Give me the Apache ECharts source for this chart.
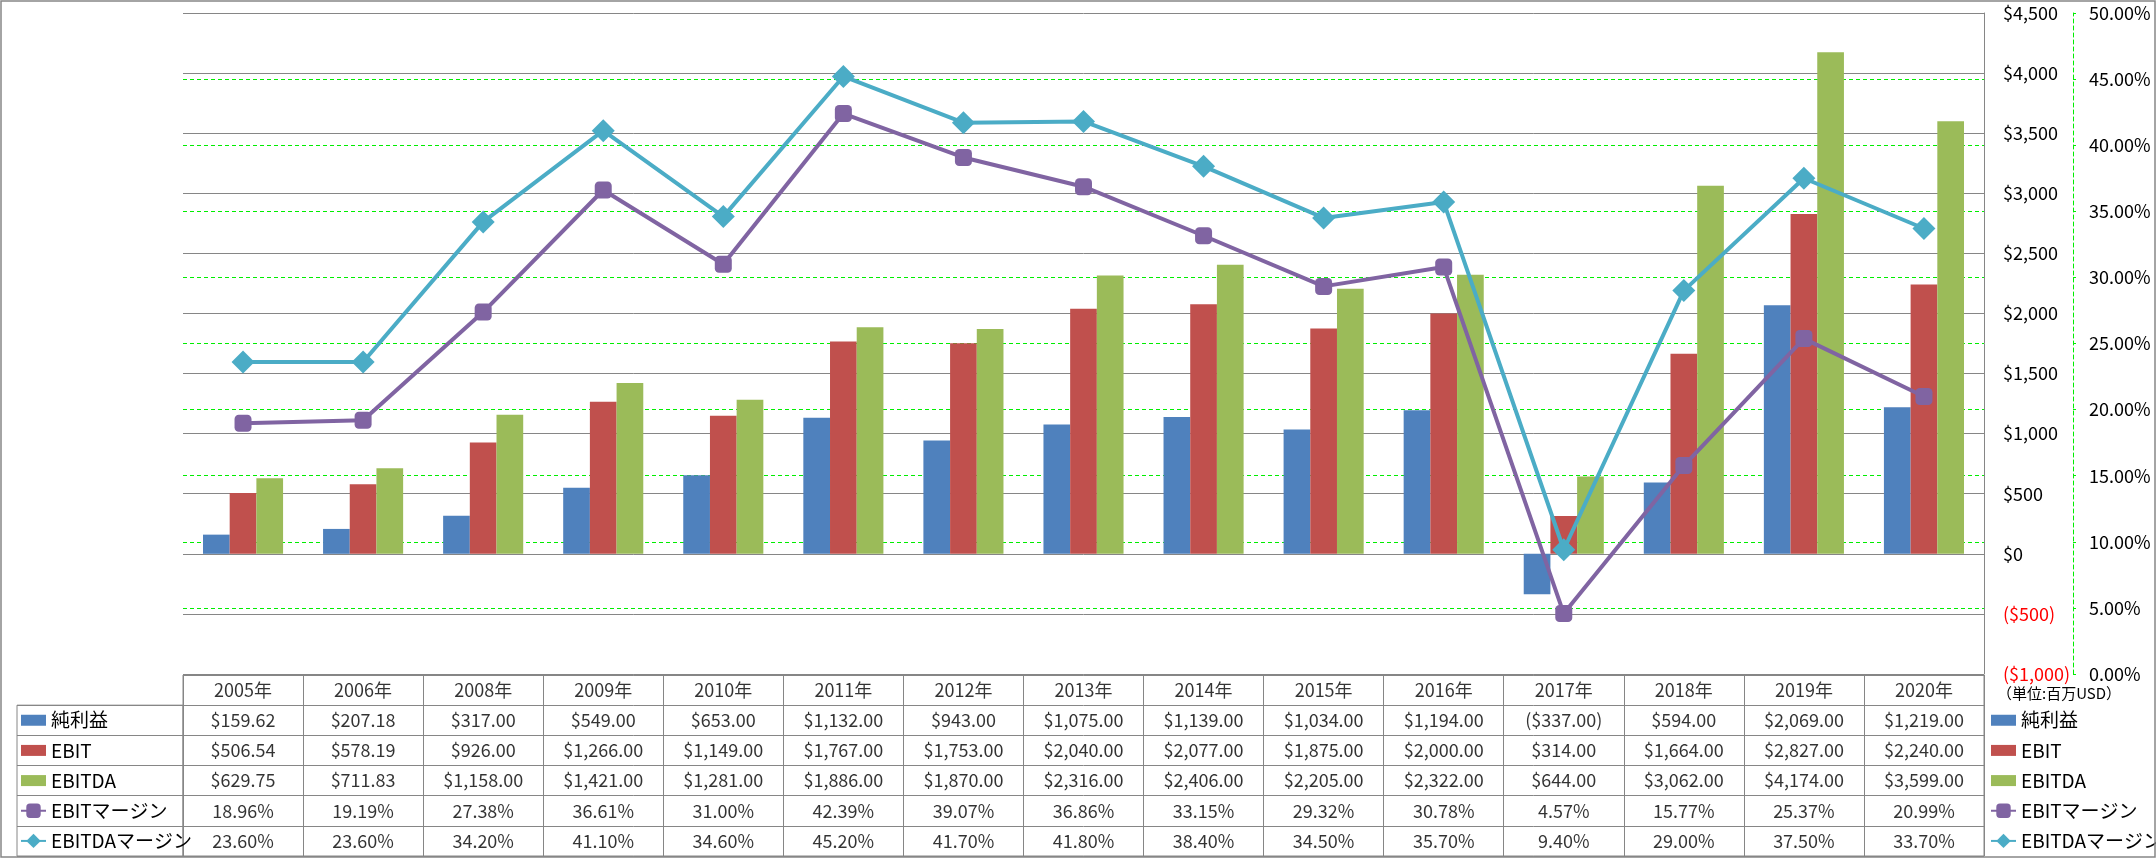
<!DOCTYPE html>
<html><head><meta charset="utf-8">
<script src="https://cdn.jsdelivr.net/npm/echarts@6/dist/echarts.min.js"></script>
<style>html,body{margin:0;padding:0;background:#fff}#c{width:2156px;height:858px}</style>
</head><body><div id="c"></div>
<script>
// ---- data ----
const categories = ['2005年','2006年','2008年','2009年','2010年','2011年','2012年','2013年','2014年','2015年','2016年','2017年','2018年','2019年','2020年'];
const netIncome = [159.62, 207.18, 317.00, 549.00, 653.00, 1132.00, 943.00, 1075.00, 1139.00, 1034.00, 1194.00, -337.00, 594.00, 2069.00, 1219.00];
const ebit = [506.54, 578.19, 926.00, 1266.00, 1149.00, 1767.00, 1753.00, 2040.00, 2077.00, 1875.00, 2000.00, 314.00, 1664.00, 2827.00, 2240.00];
const ebitda = [629.75, 711.83, 1158.00, 1421.00, 1281.00, 1886.00, 1870.00, 2316.00, 2406.00, 2205.00, 2322.00, 644.00, 3062.00, 4174.00, 3599.00];
const ebitMargin = [18.96, 19.19, 27.38, 36.61, 31.00, 42.39, 39.07, 36.86, 33.15, 29.32, 30.78, 4.57, 15.77, 25.37, 20.99];
const ebitdaMargin = [23.60, 23.60, 34.20, 41.10, 34.60, 45.20, 41.70, 41.80, 38.40, 34.50, 35.70, 9.40, 29.00, 37.50, 33.70];
const seriesNames = ['純利益', 'EBIT', 'EBITDA', 'EBITマージン', 'EBITDAマージン'];
const usdAxis = {min: -1000, max: 4500, interval: 500};
const pctAxis = {min: 0, max: 50, interval: 5};
const unitNote = '（単位:百万USD）';

// ---- formatting ----
function usd(v, dec) {
  const s = '$' + Math.abs(v).toLocaleString('en-US', {minimumFractionDigits: dec, maximumFractionDigits: dec});
  return v < 0 ? '(' + s + ')' : s;
}
function pct(v) { return v.toFixed(2) + '%'; }

// ---- layout ----
const FONT = '"Noto Sans CJK JP", "Noto Sans", sans-serif';
const plotL = 183, plotR = 2156 - 1984, plotT = 13, plotB = 858 - 674;
const tblT = 675, tblH = 181, rowH = tblH / 6;
const GRAY = '#868686', GREEN = '#00EE00';

// table cells
const rows = [netIncome.map(v => usd(v, 2)), ebit.map(v => usd(v, 2)), ebitda.map(v => usd(v, 2)),
              ebitMargin.map(pct), ebitdaMargin.map(pct)];
const cellData = [];
categories.forEach((c, i) => cellData.push([i, 0, c]));
rows.forEach((r, ri) => r.forEach((t, i) => cellData.push([i, ri + 1, t])));

const barIcon = 'path://M0,0H25V11H0Z';
const legendData = seriesNames.map((n, i) => i < 3 ? {name: n, icon: barIcon} : {name: n});
function makeLegend(left) {
  return {
    data: legendData, orient: 'vertical', left: left, top: tblT + rowH, padding: 0,
    itemWidth: 25, itemHeight: 18, itemGap: 0, selectedMode: false,
    textStyle: {fontFamily: FONT, fontSize: 19, color: '#000', lineHeight: rowH}
  };
}

const chart = echarts.init(document.getElementById('c'), null, {renderer: 'canvas'});
chart.setOption({
  animation: false,
  backgroundColor: '#fff',
  textStyle: {fontFamily: FONT},
  title: {text: unitNote, left: 1997, top: 686, padding: 0,
          textStyle: {fontFamily: FONT, fontSize: 15, fontWeight: 'normal', color: '#000'}},
  legend: [makeLegend(20), makeLegend(1990)],
  graphic: [{type: 'rect', silent: true, z: 100,
             shape: {x: 1, y: 1, width: 2154, height: 856},
             style: {fill: 'none', stroke: GRAY, lineWidth: 1.5}}],
  grid: [
    {left: plotL, right: plotR, top: plotT, bottom: plotB, show: false},
    {left: plotL, right: plotR, top: tblT, height: tblH, show: true, borderColor: GRAY, borderWidth: 1},
    {left: 17, width: plotL - 17, top: tblT + rowH, height: rowH * 5, show: true, borderColor: GRAY, borderWidth: 1}
  ],
  xAxis: [
    {type: 'category', gridIndex: 0, data: categories, axisLine: {show: false}, axisTick: {show: false}, axisLabel: {show: false}},
    {type: 'category', gridIndex: 1, data: categories, axisLine: {show: false}, axisTick: {show: false}, axisLabel: {show: false},
     splitLine: {show: true, lineStyle: {color: GRAY, width: 1}}},
    {type: 'value', gridIndex: 2, min: 0, max: 1, show: false}
  ],
  yAxis: [
    {type: 'value', gridIndex: 0, position: 'right', min: usdAxis.min, max: usdAxis.max, interval: usdAxis.interval,
     axisLine: {show: true, lineStyle: {color: GRAY, width: 1}}, axisTick: {show: false},
     axisLabel: {margin: 19, fontSize: 18, fontFamily: FONT, formatter: v => usd(v, 0),
                 color: v => (v < 0 ? '#FF0000' : '#000')},
     splitLine: {show: true, lineStyle: {color: GRAY, width: 1}}},
    {type: 'value', gridIndex: 0, position: 'right', offset: 89, min: pctAxis.min, max: pctAxis.max, interval: pctAxis.interval,
     axisLine: {show: true, lineStyle: {color: GREEN, width: 1, type: [4, 3]}},
     axisTick: {show: true, length: 3, lineStyle: {color: GREEN}},
     axisLabel: {margin: 16, fontSize: 18, fontFamily: FONT, color: '#000', formatter: v => v.toFixed(2) + '%'},
     splitLine: {show: true, showMinLine: false, showMaxLine: false, lineStyle: {color: GREEN, width: 1, type: [4, 3]}}},
    {type: 'category', gridIndex: 1, inverse: true, data: ['h', 'r1', 'r2', 'r3', 'r4', 'r5'],
     axisLine: {show: false}, axisTick: {show: false}, axisLabel: {show: false},
     splitLine: {show: true, lineStyle: {color: GRAY, width: 1}}},
    {type: 'category', gridIndex: 2, inverse: true, data: ['r1', 'r2', 'r3', 'r4', 'r5'],
     axisLine: {show: false}, axisTick: {show: false}, axisLabel: {show: false},
     splitLine: {show: true, lineStyle: {color: GRAY, width: 1}}}
  ],
  series: [
    {name: seriesNames[0], type: 'bar', xAxisIndex: 0, yAxisIndex: 0, data: netIncome, itemStyle: {color: '#4F81BD'},
     barGap: '0%', barCategoryGap: '33.3%'},
    {name: seriesNames[1], type: 'bar', xAxisIndex: 0, yAxisIndex: 0, data: ebit, itemStyle: {color: '#C0504D'}},
    {name: seriesNames[2], type: 'bar', xAxisIndex: 0, yAxisIndex: 0, data: ebitda, itemStyle: {color: '#9BBB59'}},
    {name: seriesNames[3], type: 'line', xAxisIndex: 0, yAxisIndex: 1, data: ebitMargin, z: 5,
     symbol: 'roundRect', symbolSize: 17, itemStyle: {color: '#8064A2'}, lineStyle: {color: '#8064A2', width: 4}},
    {name: seriesNames[4], type: 'line', xAxisIndex: 0, yAxisIndex: 1, data: ebitdaMargin, z: 6,
     symbol: 'diamond', symbolSize: 23, itemStyle: {color: '#4BACC6'}, lineStyle: {color: '#4BACC6', width: 4}},
    {name: 'table', type: 'scatter', xAxisIndex: 1, yAxisIndex: 2, data: cellData, symbolSize: 1, silent: true,
     itemStyle: {color: 'rgba(0,0,0,0)'},
     label: {show: true, position: 'inside', fontFamily: FONT, fontSize: 18, color: '#000', formatter: p => p.value[2]}}
  ]
});
</script>
</body></html>
